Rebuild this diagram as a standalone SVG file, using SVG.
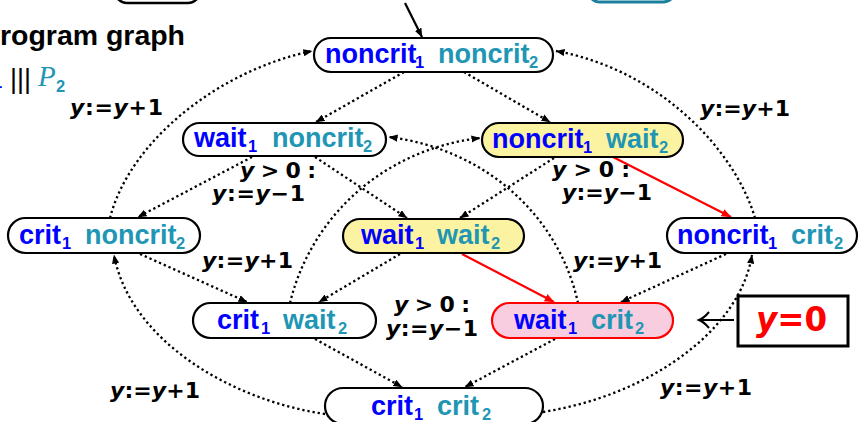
<svg xmlns="http://www.w3.org/2000/svg" width="860" height="422" viewBox="0 0 860 422">
<style>
.node{fill:#fff;stroke:#000;stroke-width:2.2}
.yel{fill:#fcf3a2}
.pink{fill:#f8cde0;stroke:#ff0000}
.t{font-family:"Liberation Sans",Arial,sans-serif;font-weight:bold;font-size:27px}
.s{font-size:16.5px}
.p1{fill:#0000ff}
.p2{fill:#1e96b4}
.lbl{font-family:"DejaVu Sans",sans-serif;font-weight:bold;font-size:22px;fill:#000}
.it{font-style:italic}
.dot{fill:none;stroke:#000;stroke-width:2.3;stroke-dasharray:2.3 2.9;marker-end:url(#ah)}
.red{fill:none;stroke:#ff0000;stroke-width:2.2;marker-end:url(#ahr)}
</style>
<defs>
<marker id="ah" viewBox="0 0 10 8" refX="9.5" refY="4" markerWidth="9" markerHeight="7.5" markerUnits="userSpaceOnUse" orient="auto"><path d="M0,0 L10,4 L0,8 z" fill="#000"/></marker>
<marker id="ahr" viewBox="0 0 10 8" refX="9.5" refY="4" markerWidth="10" markerHeight="8" markerUnits="userSpaceOnUse" orient="auto"><path d="M0,0 L10,4 L0,8 z" fill="#ff0000"/></marker>
</defs>

<g id="slide-fragments">
<rect x="115" y="-30" width="85" height="33" rx="12" fill="#fff" stroke="#000" stroke-width="2.5"/>
<rect x="588" y="-30" width="87" height="32" rx="12" fill="none" stroke="#1a7f9c" stroke-width="3"/>
<text x="0" y="45" font-family="Liberation Sans,Arial,sans-serif" font-weight="bold" font-size="28" fill="#000" textLength="185" lengthAdjust="spacingAndGlyphs">rogram graph</text>
<text x="-7" y="88" class="t p1 s">1</text>
<text x="10" y="88" font-family="Liberation Sans,sans-serif" font-size="27" fill="#000" textLength="21" lengthAdjust="spacing">|||</text>
<text x="38" y="86" font-family="Liberation Serif,serif" font-style="italic" font-size="29" fill="#1e96b4">P</text>
<text x="56" y="92" class="t p2 s">2</text>
</g>

<g id="connectors">
<line x1="405" y1="3" x2="422" y2="37" stroke="#000" stroke-width="2.2" marker-end="url(#ah)"/>
<line x1="404" y1="72" x2="316" y2="122" class="dot"/>
<line x1="464" y1="72" x2="550" y2="122" class="dot"/>
<line x1="252" y1="157" x2="138" y2="217" class="dot"/>
<line x1="315" y1="157" x2="407" y2="218" class="dot"/>
<line x1="554" y1="158" x2="460" y2="218" class="dot"/>
<line x1="613" y1="157" x2="731" y2="217" class="red"/>
<line x1="140" y1="254" x2="247" y2="302" class="dot"/>
<line x1="462" y1="254" x2="554" y2="302" class="red"/>
<line x1="400" y1="254" x2="319" y2="302" class="dot"/>
<line x1="726" y1="254" x2="621" y2="302" class="dot"/>
<line x1="315" y1="339" x2="402" y2="387" class="dot"/>
<line x1="555" y1="339" x2="465" y2="387" class="dot"/>
<path d="M110,218 C130,140 220,70 312,51" class="dot"/>
<path d="M755,218 C735,150 660,70 556,51" class="dot"/>
<path d="M290,303 C310,220 380,150 480,138" class="dot"/>
<path d="M578,303 C560,220 490,150 389,137" class="dot"/>
<path d="M325,414 C230,400 130,340 114,255" class="dot"/>
<path d="M543,412 C650,395 740,330 752,255" class="dot"/>
<line x1="734" y1="320" x2="700" y2="320" stroke="#000" stroke-width="2.2"/>
<path d="M709,312 Q704,318 699,320 Q704,322 709,328" fill="none" stroke="#000" stroke-width="2"/>
</g>

<g id="labels">
<text x="70" y="115" class="lbl" textLength="93" lengthAdjust="spacing"><tspan class="it">y</tspan>:=<tspan class="it">y</tspan>+1</text>
<text x="700" y="116" class="lbl" textLength="90" lengthAdjust="spacing"><tspan class="it">y</tspan>:=<tspan class="it">y</tspan>+1</text>
<text x="240" y="178" class="lbl" textLength="76" lengthAdjust="spacing"><tspan class="it">y</tspan> &gt; 0 :</text>
<text x="212" y="201" class="lbl" textLength="93" lengthAdjust="spacing"><tspan class="it">y</tspan>:=<tspan class="it">y</tspan>−1</text>
<text x="552" y="177" class="lbl" textLength="78" lengthAdjust="spacing"><tspan class="it">y</tspan> &gt; 0 :</text>
<text x="562" y="200" class="lbl" textLength="90" lengthAdjust="spacing"><tspan class="it">y</tspan>:=<tspan class="it">y</tspan>−1</text>
<text x="202" y="268" class="lbl" textLength="91" lengthAdjust="spacing"><tspan class="it">y</tspan>:=<tspan class="it">y</tspan>+1</text>
<text x="573" y="268" class="lbl" textLength="89" lengthAdjust="spacing"><tspan class="it">y</tspan>:=<tspan class="it">y</tspan>+1</text>
<text x="394" y="312" class="lbl" textLength="76" lengthAdjust="spacing"><tspan class="it">y</tspan> &gt; 0 :</text>
<text x="386" y="336" class="lbl" textLength="92" lengthAdjust="spacing"><tspan class="it">y</tspan>:=<tspan class="it">y</tspan>−1</text>
<text x="110" y="398" class="lbl" textLength="90" lengthAdjust="spacing"><tspan class="it">y</tspan>:=<tspan class="it">y</tspan>+1</text>
<text x="660" y="395" class="lbl" textLength="92" lengthAdjust="spacing"><tspan class="it">y</tspan>:=<tspan class="it">y</tspan>+1</text>
</g>

<g id="y0-box">
<rect x="738" y="296" width="110" height="50" fill="#fff" stroke="#000" stroke-width="3"/>
<text x="756" y="331" font-family="DejaVu Sans,sans-serif" font-weight="bold" font-size="33" fill="#ff0000" textLength="71" lengthAdjust="spacingAndGlyphs"><tspan font-style="italic">y</tspan>=0</text>
</g>

<g id="n-noncrit1-noncrit2">
<rect x="314" y="38" width="239" height="34" rx="17" class="node"/>
<text class="t"><tspan x="325" y="63" class="p1">noncrit</tspan><tspan x="415" y="68" class="p1 s">1</tspan><tspan x="438" y="63" class="p2">noncrit</tspan><tspan x="529" y="68" class="p2 s">2</tspan></text>
</g>
<g id="n-wait1-noncrit2">
<rect x="183" y="123" width="203" height="33" rx="16.5" class="node"/>
<text class="t"><tspan x="194" y="147" class="p1">wait</tspan><tspan x="248" y="152" class="p1 s">1</tspan><tspan x="272" y="147" class="p2">noncrit</tspan><tspan x="363" y="152" class="p2 s">2</tspan></text>
</g>
<g id="n-noncrit1-wait2">
<rect x="482" y="123" width="201" height="34" rx="17" class="node yel"/>
<text class="t"><tspan x="492" y="148" class="p1">noncrit</tspan><tspan x="583" y="153" class="p1 s">1</tspan><tspan x="606" y="148" class="p2">wait</tspan><tspan x="659" y="153" class="p2 s">2</tspan></text>
</g>
<g id="n-crit1-noncrit2">
<rect x="8" y="218" width="192" height="35" rx="17.5" class="node"/>
<text class="t"><tspan x="19" y="244" class="p1">crit</tspan><tspan x="62" y="249" class="p1 s">1</tspan><tspan x="85" y="244" class="p2">noncrit</tspan><tspan x="176" y="249" class="p2 s">2</tspan></text>
</g>
<g id="n-wait1-wait2">
<rect x="343" y="219" width="181" height="34" rx="17" class="node yel"/>
<text class="t"><tspan x="361" y="244" class="p1">wait</tspan><tspan x="415" y="249" class="p1 s">1</tspan><tspan x="437" y="244" class="p2">wait</tspan><tspan x="491" y="249" class="p2 s">2</tspan></text>
</g>
<g id="n-noncrit1-crit2">
<rect x="667" y="218" width="190" height="35" rx="17.5" class="node"/>
<text class="t"><tspan x="677" y="244" class="p1">noncrit</tspan><tspan x="768" y="249" class="p1 s">1</tspan><tspan x="791" y="244" class="p2">crit</tspan><tspan x="834" y="249" class="p2 s">2</tspan></text>
</g>
<g id="n-crit1-wait2">
<rect x="193" y="303" width="183" height="35" rx="17.5" class="node"/>
<text class="t"><tspan x="217" y="329" class="p1">crit</tspan><tspan x="261" y="334" class="p1 s">1</tspan><tspan x="283" y="329" class="p2">wait</tspan><tspan x="338" y="334" class="p2 s">2</tspan></text>
</g>
<g id="n-wait1-crit2">
<rect x="492" y="303" width="181" height="35" rx="17.5" class="node pink"/>
<text class="t"><tspan x="514" y="329" class="p1">wait</tspan><tspan x="568" y="334" class="p1 s">1</tspan><tspan x="591" y="329" class="p2">crit</tspan><tspan x="635" y="334" class="p2 s">2</tspan></text>
</g>
<g id="n-crit1-crit2">
<rect x="325" y="388" width="218" height="36" rx="18" class="node"/>
<text class="t"><tspan x="371" y="415" class="p1">crit</tspan><tspan x="414" y="420" class="p1 s">1</tspan><tspan x="437" y="415" class="p2">crit</tspan><tspan x="482" y="420" class="p2 s">2</tspan></text>
</g>
</svg>
